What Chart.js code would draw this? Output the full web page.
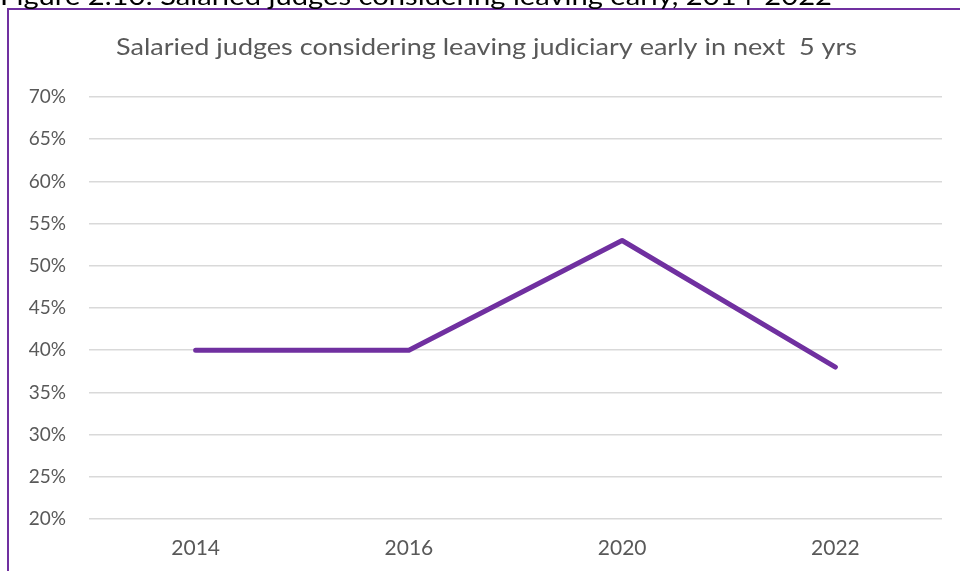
<!DOCTYPE html>
<html>
<head>
<meta charset="utf-8">
<script src="https://cdn.jsdelivr.net/npm/chart.js@4"></script>
<style>
  html, body { margin: 0; padding: 0; background: #fff; }
  #wrap { position: relative; width: 960px; height: 571px; overflow: hidden; }
  #frame { position: absolute; left: 7px; top: 8px; right: -5px; bottom: -5px;
           border-left: 2px solid #7030A0; border-top: 2px solid #7030A0; }
  canvas { position: absolute; left: 0; top: 0; }
</style>
</head>
<body>
<div id="wrap">
  <div id="frame"></div>
  <canvas id="chart" width="960" height="571"></canvas>
</div>
<script>
const years = ['2014', '2016', '2020', '2022'];
const leavingEarly = [40, 40, 53, 38];
const yMin = 20, yMax = 70, yStep = 5;
const caption = 'Figure 2.10: Salaried judges considering leaving early, 2014-2022';
const chartTitle = 'Salaried judges considering leaving judiciary early in next  5 yrs';

// texte étiré horizontalement pour imiter la largeur de Calibri
function drawStretched(ctx, text, left, baseline, width) {
  const w = ctx.measureText(text).width;
  ctx.save();
  ctx.translate(left, baseline);
  ctx.scale(width / w, 1);
  ctx.fillText(text, 0, 0);
  ctx.restore();
}

// --- texte du haut : légende coupée + titre du graphique ---
const textPlugin = {
  id: 'textPlugin',
  afterDraw(c) {
    const ctx = c.ctx;
    ctx.save();
    ctx.textBaseline = 'alphabetic';
    ctx.textAlign = 'left';
    ctx.fillStyle = '#000';
    ctx.font = '25px Lato';
    drawStretched(ctx, caption, 0, 5, 832);
    ctx.fillStyle = '#595959';
    ctx.font = '24px Lato';
    drawStretched(ctx, chartTitle, 116, 55, 741);
    ctx.restore();
  }
};

function initChart() {
  const ctx = document.getElementById('chart');
  new Chart(ctx, {
    type: 'line',
    data: {
      labels: years,
      datasets: [{
        data: leavingEarly,
        borderColor: '#7030A0',
        borderWidth: 5,
        borderCapStyle: 'round',
        borderJoinStyle: 'round',
        pointRadius: 0,
        tension: 0,
        fill: false
      }]
    },
    options: {
      responsive: false,
      animation: false,
      layout: { padding: { top: 97, right: 18, left: 0, bottom: 0 } },
      plugins: { legend: { display: false }, title: { display: false }, tooltip: { enabled: false } },
      scales: {
        x: {
          offset: true,
          grid: { display: false, drawTicks: false },
          border: { display: false },
          ticks: { color: '#595959', font: { family: 'Lato', size: 21 }, padding: 17, maxRotation: 0 },
          afterFit(s) { s.height = 52; }
        },
        y: {
          min: yMin, max: yMax,
          grid: { color: '#d9d9d9', lineWidth: 1.5, drawTicks: false },
          border: { display: false },
          ticks: {
            stepSize: yStep,
            color: '#595959',
            font: { family: 'Lato', size: 19 },
            padding: 23,
            callback: v => v + '%'
          },
          afterFit(s) { s.width = 89; }
        }
      }
    },
    plugins: [textPlugin]
  });
}

initChart();
</script>
</body>
</html>
